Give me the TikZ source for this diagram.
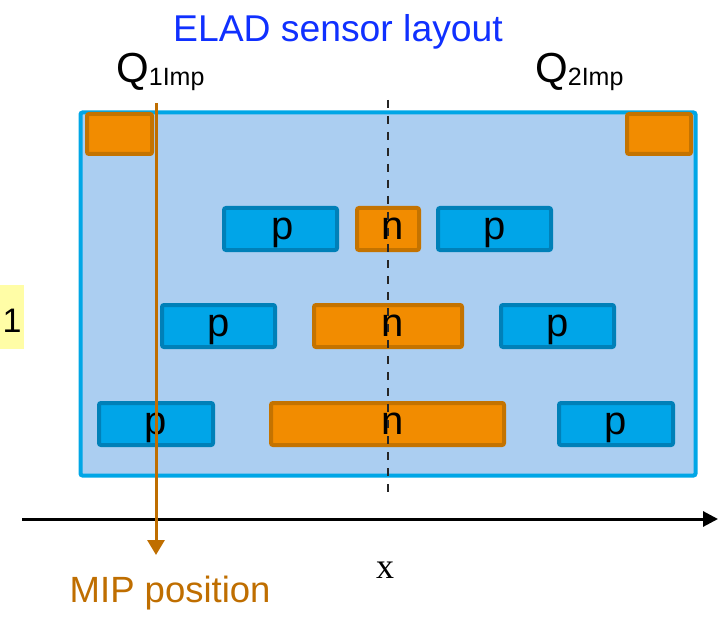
\documentclass[tikz,border=0pt]{standalone}
\usepackage{fontspec}
\setmainfont{Liberation Sans}
\newfontfamily\serifx{Liberation Serif}
\usetikzlibrary{arrows.meta}

\definecolor{sensorfill}{HTML}{ABCEF1}
\definecolor{sensoredge}{HTML}{00A6E6}
\definecolor{pfill}{HTML}{00A5E8}
\definecolor{pedge}{HTML}{0080B8}
\definecolor{nfill}{HTML}{F28C00}
\definecolor{nedge}{HTML}{C47300}
\definecolor{mipcol}{HTML}{BF6E00}
\definecolor{titleblue}{HTML}{1030FF}
\definecolor{noteyellow}{HTML}{FFFDA6}

\tikzset{
  strip/.style={draw, line width=4pt, rounded corners=2pt, inner sep=0pt,
    minimum height=42pt, text height=21pt, text depth=0pt,
    font=\fontsize{40}{40}\selectfont},
  pstrip/.style={strip, fill=pfill, draw=pedge},
  nstrip/.style={strip, fill=nfill, draw=nedge},
  implant/.style={draw=nedge, fill=nfill, line width=4pt, rounded corners=2pt,
    inner sep=0pt, minimum height=40pt},
  lbl/.style={inner sep=0pt, anchor=base west},
}

\begin{document}
\begin{tikzpicture}[x=1pt, y=-1pt]
\useasboundingbox (0,0) rectangle (722,620);

% sensor body
\node[draw=sensoredge, fill=sensorfill, line width=4pt, rounded corners=2pt,
  minimum width=615pt, minimum height=363pt, inner sep=0pt] (body) at (388,294) {};

% implants in the top corners
\node[implant, minimum width=65pt] (imp1) at (119.5,134) {};
\node[implant, minimum width=64pt] (imp2) at (659,134) {};

% strip row 1
\node[pstrip, minimum width=113pt] (p1l) at (280.5,229) {\hspace*{4pt}p};
\node[nstrip, minimum width=62pt]  (n1)  at (388,229) {\hspace*{9pt}n};
\node[pstrip, minimum width=113pt] (p1r) at (494.5,229) {p};
% strip row 2
\node[pstrip, minimum width=113pt] (p2l) at (218.5,326) {p};
\node[nstrip, minimum width=148pt] (n2)  at (388,326) {\hspace*{9pt}n};
\node[pstrip, minimum width=113pt] (p2r) at (557.5,326) {p};
% strip row 3
\node[pstrip, minimum width=114pt] (p3l) at (156,424) {p};
\node[nstrip, minimum width=233pt] (n3)  at (387.5,424) {\hspace*{10pt}n};
\node[pstrip, minimum width=114pt] (p3r) at (616,424) {p};

% symmetry axis
\coordinate (symtop) at (388,100);
\coordinate (symbot) at (388,492);
\draw[line width=1.5pt, color=black!85, dash pattern=on 8pt off 8pt] (symtop) -- (symbot);

% x axis
\coordinate (xstart) at (22,519);
\coordinate (xend) at (718,519);
\draw[line width=3pt, -{Triangle[length=15pt, width=15pt]}] (xstart) -- (xend);
\node[inner sep=0pt, anchor=base, font=\serifx\fontsize{36}{36}\selectfont] (xlbl) at (385,578) {x};

% MIP track
\coordinate (miptop) at (156,103);
\node[lbl, text=mipcol, font=\fontsize{36.5}{36.5}\selectfont] (miplbl) at (69.5,602) {MIP position};
\coordinate (mipend) at (156,555);
\draw[line width=3pt, mipcol, -{Triangle[length=15pt, width=17pt]}] (miptop) -- (mipend);

% labels
\node[inner sep=0pt, anchor=base, text=titleblue, font=\fontsize{37.3}{37.3}\selectfont] (title) at (338,42) {ELAD sensor layout};
\node[lbl, font=\fontsize{42}{42}\selectfont] (q1) at (116,83) {Q{\fontsize{25}{25}\selectfont\raisebox{-3pt}{1Imp}}};
\node[lbl, font=\fontsize{42}{42}\selectfont] (q2) at (535,83) {Q{\fontsize{25}{25}\selectfont\raisebox{-3pt}{2Imp}}};

% side note
\node[fill=noteyellow, inner sep=0pt, minimum width=24pt, minimum height=64pt] (note) at (12,317) {};
\node[lbl, font=\fontsize{34}{34}\selectfont] (notetext) at (2.3,332) {1};
\end{tikzpicture}
\end{document}
